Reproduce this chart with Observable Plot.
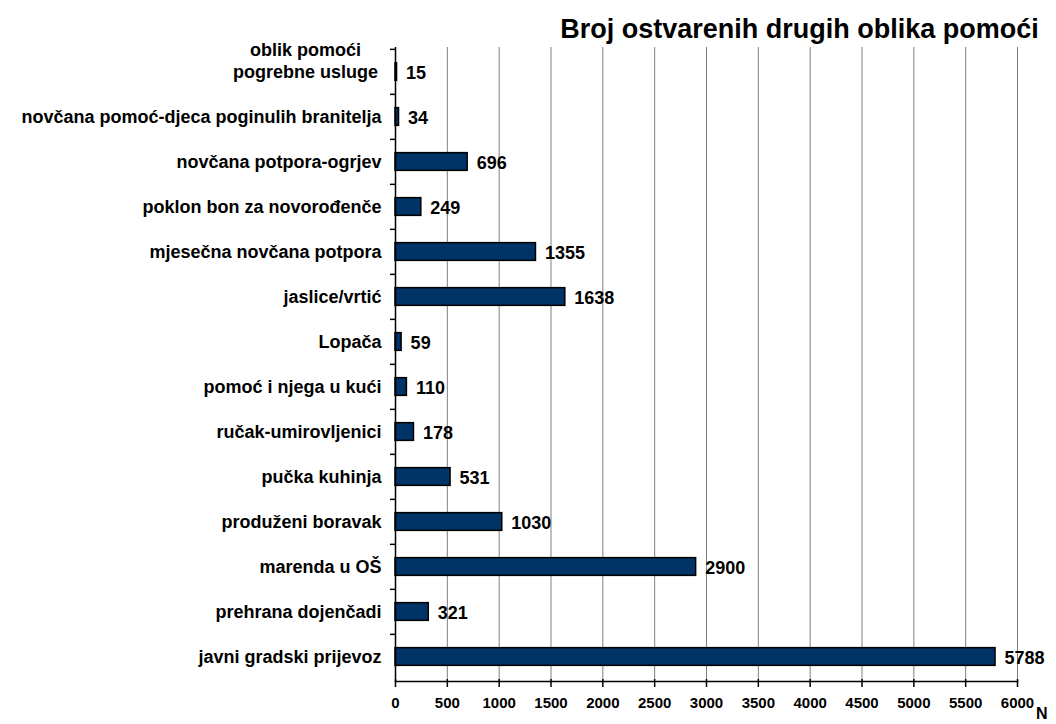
<!DOCTYPE html>
<html>
<head>
<meta charset="utf-8">
<script src="https://cdn.jsdelivr.net/npm/d3@7"></script>
<script src="https://cdn.jsdelivr.net/npm/@observablehq/plot@0.6"></script>
<style>
  html, body { margin: 0; padding: 0; background: #ffffff; }
  #chart svg { display: block; }
</style>
</head>
<body>
<div id="chart"></div>
<script>
const categories = [
  "oblik pomoći\npogrebne usluge",
  "novčana pomoć-djeca poginulih branitelja",
  "novčana potpora-ogrjev",
  "poklon bon za novorođenče",
  "mjesečna novčana potpora",
  "jaslice/vrtić",
  "Lopača",
  "pomoć i njega u kući",
  "ručak-umirovljenici",
  "pučka kuhinja",
  "produženi boravak",
  "marenda u OŠ",
  "prehrana dojenčadi",
  "javni gradski prijevoz"
];
const values = [15, 34, 696, 249, 1355, 1638, 59, 110, 178, 531, 1030, 2900, 321, 5788];
const xTicks = [0, 500, 1000, 1500, 2000, 2500, 3000, 3500, 4000, 4500, 5000, 5500, 6000];
const title = "Broj ostvarenih drugih oblika pomoći";
const xLabel = "N";

const data = categories.map((c, i) => ({category: c, value: values[i]}));

const W = 1056, H = 724, mT = 47, mB = 43, mL = 395, mR = 39;
const step = (H - mT - mB) / categories.length;
const font = "'Liberation Sans', Arial, sans-serif";

const chart = Plot.plot({
  width: W,
  height: H,
  marginTop: mT,
  marginBottom: mB,
  marginLeft: mL,
  marginRight: mR,
  style: {fontFamily: font, fontWeight: "bold", background: "#ffffff", color: "#000000", overflow: "visible"},
  x: {domain: [0, 6000], label: null},
  y: {domain: categories, padding: 0, label: null},
  marks: [
    Plot.ruleX(xTicks.slice(1), {stroke: "#808080", strokeWidth: 1}),
    Plot.barX(data, {x: "value", y: "category", fill: "#003366", stroke: "#000000", strokeWidth: 1.5,
      insetTop: (step - 18) / 2, insetBottom: (step - 18) / 2}),
    Plot.text(data, {x: "value", y: "category", text: d => String(d.value), textAnchor: "start",
      dx: 9, dy: 1, fontSize: 18, fontWeight: "bold", fill: "#000000"}),
    Plot.ruleX([0], {stroke: "#000000", strokeWidth: 1.5}),
    Plot.frame({anchor: "bottom", stroke: "#000000", strokeWidth: 1.5, strokeOpacity: 1}),
    Plot.axisX(xTicks, {tickSize: 6, tickPadding: 10, fontSize: 15, label: null, tickFormat: d => String(d),
      stroke: "#000000", strokeWidth: 1.5}),
    Plot.axisX(xTicks, {tickSize: -2, tickFormat: () => "", label: null,
      stroke: "#000000", strokeWidth: 1.5}),
    Plot.axisY(categories.slice(1), {tickSize: 0, tickPadding: 14, fontSize: 18, label: null}),
    Plot.axisY([categories[0]], {tickSize: 0, tickPadding: 14, fontSize: 18, label: null,
      lineHeight: 1.2, textAnchor: "middle", dx: -76, dy: -12}),
    Plot.axisY(categories, {tickSize: 5, tickFormat: () => "", dy: -step / 2, label: null,
      stroke: "#000000", strokeWidth: 1.5}),
    Plot.text([title], {text: d => d, frameAnchor: "top", lineAnchor: "middle", dx: 93, dy: -18,
      fontSize: 27, fontWeight: "bold", fill: "#000000"}),
    Plot.text([xLabel], {text: d => d, frameAnchor: "bottom-right", lineAnchor: "bottom", dx: 30, dy: 37,
      fontSize: 16, fontWeight: "bold", fill: "#000000"})
  ]
});

document.getElementById("chart").appendChild(chart);
</script>
</body>
</html>
